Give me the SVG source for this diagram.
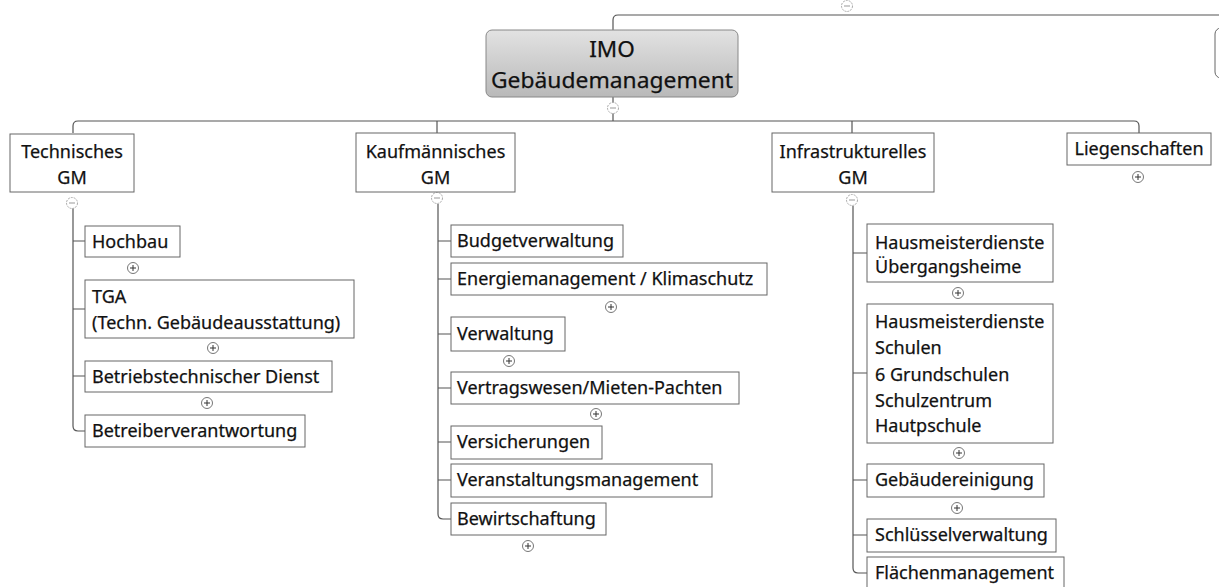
<svg xmlns="http://www.w3.org/2000/svg" width="1219" height="587" viewBox="0 0 1219 587">
<defs>
<linearGradient id="rootGrad" x1="0" y1="0" x2="0" y2="1">
<stop offset="0" stop-color="#e2e2e2"/>
<stop offset="1" stop-color="#b9b9b9"/>
</linearGradient>
<g id="plus"><circle cx="0" cy="0" r="5.5" fill="#fff" stroke="#777" stroke-width="1"/><path d="M-3,0H3M0,-3V3" stroke="#333" stroke-width="1"/></g>
<g id="minus"><circle cx="0" cy="0" r="5.5" fill="#fff" stroke="#aaa" stroke-width="1" stroke-dasharray="2,1"/><path d="M-3,0H3" stroke="#999" stroke-width="1"/></g>
</defs>
<style>
.box{fill:#fff;stroke:#666;stroke-width:1}
.root{fill:url(#rootGrad);stroke:#888;stroke-width:1}
.t{font-family:"Noto Sans","Open Sans",sans-serif;font-size:18px;fill:#111;stroke:#111;stroke-width:0.25}
.c{text-anchor:middle}
.rt{font-family:"Noto Sans","Open Sans",sans-serif;font-size:22.5px;fill:#111;stroke:#111;stroke-width:0.25;text-anchor:middle}
.ln{fill:none;stroke:#555;stroke-width:1.2}
</style>
<rect width="1219" height="587" fill="#fff"/>
<g id="connectors">
<path class="ln" d="M613,30 V20 Q613,15 618,15 H1219"/>
<path class="ln" d="M613,97 V121"/>
<path class="ln" d="M73,133 V126 Q73,121 78,121 H1134 Q1139,121 1139,126 V133"/>
<path class="ln" d="M437,121 V133"/>
<path class="ln" d="M852,121 V133"/>
<path class="ln" d="M73,208 V426 Q73,431 78,431 H85"/>
<path class="ln" d="M73,241 H85 M73,309 H85 M73,376 H85"/>
<path class="ln" d="M438,204 V514 Q438,519 443,519 H451"/>
<path class="ln" d="M438,241 H451 M438,279 H451 M438,334 H451 M438,388 H451 M438,442 H451 M438,480 H451"/>
<path class="ln" d="M853,206 V568 Q853,573 858,573 H867"/>
<path class="ln" d="M853,253 H867 M853,373 H867 M853,480 H867 M853,535 H867"/>
</g>
<g id="toggles">
<use href="#minus" x="847" y="6"/>
<use href="#minus" x="613" y="108"/>
<use href="#minus" x="72" y="203"/>
<use href="#minus" x="437" y="198"/>
<use href="#minus" x="852" y="200"/>
<use href="#plus" x="133" y="268"/>
<use href="#plus" x="213" y="348"/>
<use href="#plus" x="207" y="403"/>
<use href="#plus" x="611" y="307"/>
<use href="#plus" x="509" y="361"/>
<use href="#plus" x="596" y="414"/>
<use href="#plus" x="528" y="546"/>
<use href="#plus" x="958" y="293"/>
<use href="#plus" x="959" y="453"/>
<use href="#plus" x="957" y="508"/>
<use href="#plus" x="1138" y="177"/>
</g>
<g id="partial-right"><rect x="1215" y="28" width="30" height="50" rx="6" class="box"/></g>
<g id="root"><rect x="486" y="30" width="252" height="67" rx="6" class="root"/>
<text class="rt" x="612" y="57">IMO</text><text class="rt" x="612" y="88" textLength="242" lengthAdjust="spacingAndGlyphs">Gebäudemanagement</text></g>
<g id="technisches"><rect x="10" y="134" width="124" height="58" class="box"/>
<text class="t c" x="72" y="158">Technisches</text><text class="t c" x="72" y="184">GM</text></g>
<g id="kaufmaennisches"><rect x="356" y="133" width="159" height="59" class="box"/>
<text class="t c" x="435.5" y="158">Kaufmännisches</text><text class="t c" x="435.5" y="184">GM</text></g>
<g id="infrastrukturelles"><rect x="772" y="133" width="162" height="59" class="box"/>
<text class="t c" x="853" y="158">Infrastrukturelles</text><text class="t c" x="853" y="184">GM</text></g>
<g id="liegenschaften"><rect x="1067" y="133" width="144" height="32" class="box"/>
<text class="t c" x="1139" y="155">Liegenschaften</text></g>
<g id="hochbau"><rect x="85" y="226" width="95" height="31" class="box"/><text class="t" x="92" y="248">Hochbau</text></g>
<g id="tga"><rect x="85" y="280" width="269" height="58" class="box"/><text class="t" x="92" y="303">TGA</text><text class="t" x="92" y="329">(Techn. Gebäudeausstattung)</text></g>
<g id="betriebstechnischer"><rect x="85" y="361" width="247" height="31" class="box"/><text class="t" x="92" y="383">Betriebstechnischer Dienst</text></g>
<g id="betreiberverantwortung"><rect x="85" y="415" width="220" height="32" class="box"/><text class="t" x="92" y="437">Betreiberverantwortung</text></g>
<g id="budget"><rect x="451" y="225" width="172" height="32" class="box"/><text class="t" x="457" y="247">Budgetverwaltung</text></g>
<g id="energie"><rect x="451" y="263" width="316" height="32" class="box"/><text class="t" x="457" y="285">Energiemanagement / Klimaschutz</text></g>
<g id="verwaltung"><rect x="451" y="317" width="114" height="34" class="box"/><text class="t" x="457" y="340">Verwaltung</text></g>
<g id="vertragswesen"><rect x="451" y="372" width="288" height="32" class="box"/><text class="t" x="457" y="394">Vertragswesen/Mieten-Pachten</text></g>
<g id="versicherungen"><rect x="451" y="426" width="151" height="33" class="box"/><text class="t" x="457" y="448">Versicherungen</text></g>
<g id="veranstaltung"><rect x="451" y="464" width="261" height="33" class="box"/><text class="t" x="457" y="486">Veranstaltungsmanagement</text></g>
<g id="bewirtschaftung"><rect x="451" y="503" width="155" height="32" class="box"/><text class="t" x="457" y="525">Bewirtschaftung</text></g>
<g id="hm-uebergang"><rect x="867" y="224" width="186" height="58" class="box"/><text class="t" x="875" y="249">Hausmeisterdienste</text><text class="t" x="875" y="273">Übergangsheime</text></g>
<g id="hm-schulen"><rect x="867" y="304" width="186" height="139" class="box"/><text class="t" x="875" y="328">Hausmeisterdienste</text><text class="t" x="875" y="354">Schulen</text><text class="t" x="875" y="381">6 Grundschulen</text><text class="t" x="875" y="407">Schulzentrum</text><text class="t" x="875" y="432">Hautpschule</text></g>
<g id="gebaeudereinigung"><rect x="867" y="464" width="177" height="33" class="box"/><text class="t" x="875" y="486">Gebäudereinigung</text></g>
<g id="schluessel"><rect x="867" y="519" width="189" height="33" class="box"/><text class="t" x="875" y="541">Schlüsselverwaltung</text></g>
<g id="flaechen"><rect x="867" y="557" width="197" height="35" class="box"/><text class="t" x="875" y="579">Flächenmanagement</text></g>
</svg>
